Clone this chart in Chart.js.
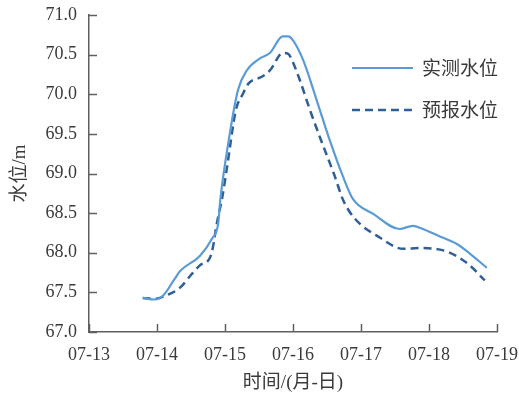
<!DOCTYPE html>
<html>
<head>
<meta charset="utf-8">
<script src="https://cdn.jsdelivr.net/npm/chart.js@4/dist/chart.umd.min.js"></script>
<style>
  html, body { margin: 0; padding: 0; background: #fff; }
  #wrap { width: 519px; height: 396px; }
</style>
</head>
<body>
<div id="wrap"><canvas id="c" width="519" height="396"></canvas></div>
<script>
// time in days (07-13 = 13), water level in m
const obsDays = [13.79, 13.97, 14.09, 14.26, 14.34, 14.63, 14.81, 14.90, 14.93, 15.07, 15.19, 15.32, 15.51, 15.66, 15.85, 15.93, 16.00, 16.15, 16.35, 16.54, 16.74, 16.88, 17.18, 17.57, 17.76, 17.91, 18.12, 18.41, 18.60, 18.85];
const obsLevel = [67.43, 67.41, 67.46, 67.67, 67.77, 67.96, 68.18, 68.37, 68.66, 69.50, 70.05, 70.30, 70.45, 70.52, 70.73, 70.73, 70.68, 70.43, 69.92, 69.42, 68.95, 68.68, 68.49, 68.30, 68.34, 68.30, 68.22, 68.11, 67.99, 67.81];
const fcDays = [13.79, 13.97, 14.13, 14.34, 14.51, 14.63, 14.78, 14.82, 14.88, 14.96, 15.03, 15.16, 15.26, 15.35, 15.54, 15.66, 15.85, 15.93, 16.00, 16.10, 16.25, 16.43, 16.60, 16.74, 16.90, 17.28, 17.62, 17.87, 18.21, 18.40, 18.60, 18.82];
const fcLevel = [67.43, 67.42, 67.46, 67.56, 67.73, 67.84, 67.94, 68.06, 68.37, 68.70, 69.08, 69.80, 70.00, 70.14, 70.22, 70.30, 70.52, 70.51, 70.40, 70.18, 69.80, 69.38, 69.00, 68.66, 68.44, 68.19, 68.05, 68.06, 68.03, 67.96, 67.84, 67.65];
const seriesNames = ['实测水位', '预报水位'];
const xTicks = [13, 14, 15, 16, 17, 18, 19];
const yTicks = [67.0, 67.5, 68.0, 68.5, 69.0, 69.5, 70.0, 70.5, 71.0];

const axisColor = '#5f5f5f';
const textColor = '#3a3a3a';
const fontStack = '"Liberation Serif", "Noto Sans CJK SC", serif';

const toPts = (xs, ys) => xs.map((x, i) => ({ x: x, y: ys[i] }));

// ticks pointing into the plot
const innerTicks = {
  id: 'innerTicks',
  afterDraw(chart) {
    const { ctx, scales: { x, y }, chartArea } = chart;
    ctx.save();
    ctx.strokeStyle = axisColor;
    ctx.lineWidth = 1.5;
    ctx.beginPath();
    xTicks.forEach(v => {
      const px = Math.round(x.getPixelForValue(v)) + 0.5;
      ctx.moveTo(px, chartArea.bottom);
      ctx.lineTo(px, chartArea.bottom - 8);
    });
    yTicks.forEach(v => {
      const py = Math.round(y.getPixelForValue(v)) + 0.5;
      ctx.moveTo(chartArea.left, py);
      ctx.lineTo(chartArea.left + 8, py);
    });
    ctx.stroke();
    ctx.restore();
  }
};

const sideLegend = {
  id: 'sideLegend',
  afterDraw(chart) {
    const { ctx } = chart;
    ctx.save();
    chart.data.datasets.forEach((ds, i) => {
      const yy = 68 + i * 42;
      ctx.strokeStyle = ds.borderColor;
      ctx.lineWidth = ds.borderWidth;
      ctx.setLineDash(ds.borderDash || []);
      ctx.beginPath();
      ctx.moveTo(352, yy);
      ctx.lineTo(413, yy);
      ctx.stroke();
      ctx.setLineDash([]);
      ctx.fillStyle = textColor;
      ctx.font = '19px "Noto Sans CJK SC", sans-serif';
      ctx.textBaseline = 'middle';
      ctx.textAlign = 'left';
      ctx.fillText(ds.label, 422, yy);
    });
    ctx.restore();
  }
};

const noPad = s => { s.paddingTop = 0; s.paddingBottom = 0; s.paddingLeft = 0; s.paddingRight = 0; };

new Chart(document.getElementById('c'), {
  type: 'line',
  data: {
    datasets: [
      {
        label: seriesNames[0],
        data: toPts(obsDays, obsLevel),
        borderColor: '#5b9bd5',
        borderWidth: 2.2,
        pointRadius: 0,
        tension: 0.4,
        cubicInterpolationMode: 'monotone'
      },
      {
        label: seriesNames[1],
        data: toPts(fcDays, fcLevel),
        borderColor: '#2f5f96',
        borderWidth: 2.5,
        borderDash: [8, 5],
        pointRadius: 0,
        tension: 0.4,
        cubicInterpolationMode: 'monotone'
      }
    ]
  },
  options: {
    responsive: false,
    animation: false,
    layout: { padding: { top: 15, right: 22, left: 0, bottom: 0 } },
    plugins: { legend: { display: false }, tooltip: { enabled: false } },
    scales: {
      x: {
        type: 'linear',
        min: 13,
        max: 19,
        afterBuildTicks: s => { s.ticks = xTicks.map(v => ({ value: v })); },
        afterFit: s => { s.height = 64; noPad(s); },
        grid: { display: true, drawOnChartArea: false, drawTicks: false },
        border: { color: axisColor, width: 1.5 },
        ticks: {
          color: textColor,
          padding: 12,
          maxRotation: 0,
          font: { family: fontStack, size: 18 },
          callback: v => '07-' + String(v).padStart(2, '0')
        },
        title: {
          display: true,
          text: '时间/(月-日)',
          color: textColor,
          font: { family: fontStack, size: 19 },
          padding: { top: 0, bottom: 2 }
        }
      },
      y: {
        min: 67,
        max: 71,
        afterBuildTicks: s => { s.ticks = yTicks.map(v => ({ value: v })); },
        afterFit: s => { s.width = 89; noPad(s); },
        grid: { display: true, drawOnChartArea: false, drawTicks: false },
        border: { color: axisColor, width: 1.5 },
        ticks: {
          color: textColor,
          padding: 12,
          font: { family: fontStack, size: 18 },
          callback: v => v.toFixed(1)
        },
        title: {
          display: true,
          text: '水位/m',
          color: textColor,
          font: { family: fontStack, size: 19 },
          padding: { top: 9, bottom: 0 }
        }
      }
    }
  },
  plugins: [innerTicks, sideLegend]
});
</script>
</body>
</html>
